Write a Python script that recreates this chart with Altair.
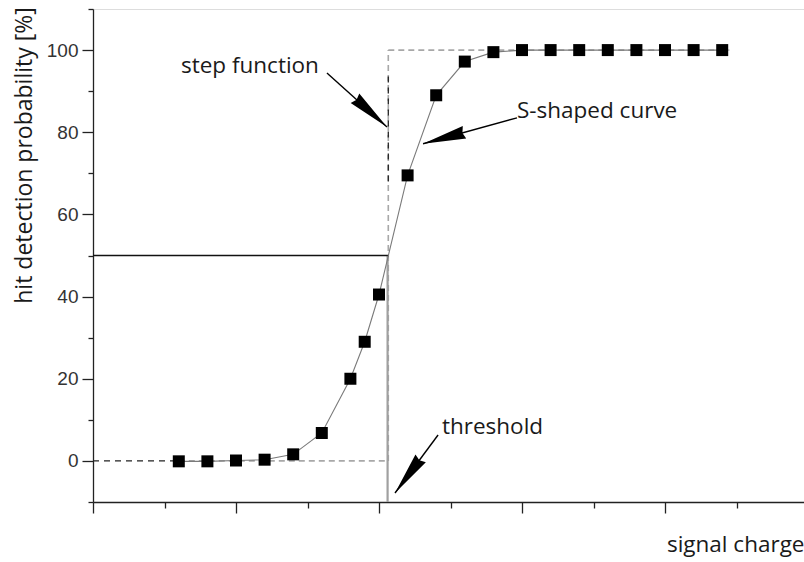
import math

import altair as alt
import pandas as pd

# Measured hit detection probability [%] versus signal charge (arbitrary units)
charge = [0.6, 0.8, 1.0, 1.2, 1.4, 1.6, 1.8, 1.9, 2.0, 2.2, 2.4,
          2.6, 2.8, 3.0, 3.2, 3.4, 3.6, 3.8, 4.0, 4.2, 4.4]
prob = [-0.1, -0.1, 0.1, 0.3, 1.6, 6.8, 20.0, 29.0, 40.5, 69.5, 89.0,
        97.2, 99.5, 100.0, 100.0, 100.0, 100.0, 100.0, 100.0, 100.0, 100.0]

# Ideal discriminator: step at the threshold charge
threshold = 2.06
step_start = 0.6
step_stop = 4.45
half_level = 50

# Annotations: text anchor, arrow start and arrow tip (data units)
labels = ["step function", "S-shaped curve", "threshold"]
label_x = [0.615, 2.965, 2.44]
label_y = [94.4, 83.5, 6.6]
arrow_x0 = [1.636, 2.965, 2.413]
arrow_y0 = [94.4, 83.5, 6.3]
arrow_x1 = [2.056, 2.308, 2.112]
arrow_y1 = [81.3, 77.2, -7.8]

# Axis ranges and tick positions
X_MAX = 711 / 143
Y_MIN, Y_MAX = -10, 110
x_ticks = [i * 0.5 for i in range(10)]
y_ticks = list(range(-10, 111, 10))

W, H = 711, 493
INK = "#1a1a1a"
TEXT_FONT = "Open Sans"

x_axis = alt.Axis(
    values=x_ticks, labels=False, grid=False,
    tickSize={"condition": {"test": "datum.value % 1 === 0", "value": 11}, "value": 6},
    tickColor="#222", tickWidth=1.3, domainColor="#222", domainWidth=1.3,
    title="signal charge", titleFont=TEXT_FONT, titleFontSize=22.5,
    titleFontWeight="normal", titleColor=INK, titleAlign="right",
    titleAnchor="end", titleBaseline="alphabetic", titleX=W, titleY=49,
)
y_axis = alt.Axis(
    values=y_ticks, grid=False,
    labelExpr="datum.value % 20 === 0 ? datum.label : ''",
    tickSize={"condition": {"test": "datum.value % 20 === 0", "value": 11}, "value": 5},
    tickColor="#222", tickWidth=1.3, domainColor="#222", domainWidth=1.3,
    labelFont="Liberation Sans", labelFontSize=19, labelColor="#333",
    labelPadding=4,
    title="hit detection probability [%]", titleFont=TEXT_FONT,
    titleFontSize=23, titleFontWeight="normal", titleColor=INK,
    titleAngle=270, titleAlign="center", titleBaseline="alphabetic",
    titleX=-62, titleY=146,
)
x_scale = alt.Scale(domain=[0, X_MAX], nice=False, zero=False)
y_scale = alt.Scale(domain=[Y_MIN, Y_MAX], nice=False, zero=False)


def X(field="x"):
    return alt.X(f"{field}:Q", scale=x_scale, axis=x_axis)


def Y(field="y"):
    return alt.Y(f"{field}:Q", scale=y_scale, axis=y_axis)


def segments(rows):
    return pd.DataFrame(rows, columns=["x", "y", "x2", "y2"])


def rule(df, color, width, dash=None):
    kw = dict(color=color, strokeWidth=width)
    if dash:
        kw["strokeDash"] = dash
    return alt.Chart(df).mark_rule(**kw).encode(
        x=X(), y=Y(), x2="x2:Q", y2="y2:Q")


# Step function (dashed), with the darker portions drawn on top
step_gray = segments([
    [step_start, 0, threshold, 0],
    [threshold + 0.005, 0, threshold + 0.005, 100],
    [threshold + 0.005, 100, step_stop, 100],
])
step_dark = segments([
    [0, 0, step_start - 0.04, 0],
    [threshold + 0.005, 68, threshold + 0.005, 94],
])
half_line = segments([[0, half_level, threshold + 0.01, half_level]])
thr_line = segments([[threshold, Y_MIN, threshold, half_level]])

curve = pd.DataFrame({"x": charge, "y": prob})

# Arrow shafts and heads
px_x = W / X_MAX
px_y = H / (Y_MAX - Y_MIN)
angles = []
for a, b, c, d in zip(arrow_x0, arrow_y0, arrow_x1, arrow_y1):
    dx = (c - a) * px_x
    dy = -(d - b) * px_y
    angles.append(math.degrees(math.atan2(dx, -dy)) % 360)

shafts = pd.DataFrame({"x": arrow_x0, "y": arrow_y0, "x2": arrow_x1, "y2": arrow_y1})
heads = pd.DataFrame({"x": arrow_x1, "y": arrow_y1, "angle": angles})
notes = pd.DataFrame({"x": label_x, "y": label_y, "text": labels})

HEAD_PATH = "M0,0 L0.3,2 L0,1.9 L-0.3,2 Z"

layers = [
    rule(step_gray, "#a8a8a8", 1.6, [6, 4]),
    rule(step_dark, "#222", 1.3, [6, 5]),
    rule(thr_line, "#a0a0a0", 2.2),
    rule(half_line, "#111", 1.3),
    alt.Chart(curve).mark_line(color="#7a7a7a", strokeWidth=1.1).encode(x=X(), y=Y()),
    alt.Chart(curve).mark_point(shape="square", filled=True, color="#000",
                                opacity=1, size=144).encode(x=X(), y=Y()),
    rule(shafts, "#000", 1.4),
    alt.Chart(heads).mark_point(shape=HEAD_PATH, filled=True, color="#000",
                                opacity=1, size=43 * 43, strokeWidth=0).encode(
        x=X(), y=Y(), angle=alt.Angle("angle:Q", scale=None)),
    alt.Chart(notes).mark_text(align="left", baseline="alphabetic",
                               font=TEXT_FONT, fontSize=22.5, color=INK).encode(
        x=X(), y=Y(), text="text:N"),
]

chart = alt.layer(*layers).properties(
    width=W, height=H,
    autosize=alt.AutoSizeParams(type="none"),
    padding={"left": 93, "top": 9, "right": 0, "bottom": 60},
).configure_view(stroke=None).configure(background="white")

chart.save("out.html", embed_options={"renderer": "svg", "actions": False})
